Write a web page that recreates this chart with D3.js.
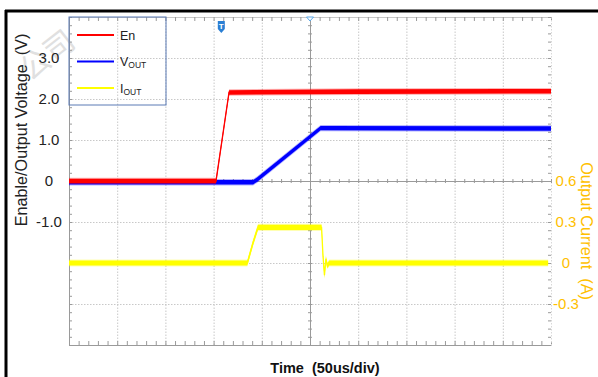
<!DOCTYPE html>
<html><head><meta charset="utf-8">
<script src="https://cdn.jsdelivr.net/npm/d3@7"></script>
<style>
html,body{margin:0;padding:0;background:#fff;}
svg{display:block;font-family:"Liberation Sans",Arial,sans-serif;}
</style></head>
<body>
<svg id="c" width="598" height="377"></svg>
<script>
// ---- data (time in us, 50us/div) ----
const enTime   = [0, 152.5, 166, 300, 500];
const enVolt   = [0.0, 0.0, 2.16, 2.18, 2.19];
const voutTime = [0, 191, 195, 261, 500];
const voutVolt = [-0.03, -0.03, 0.03, 1.29, 1.28];
const ioutTime = [0, 185, 191, 196, 262, 263.5, 265, 266.5, 268, 270, 497];
const ioutAmp  = [0.0, 0.0, 0.15, 0.26, 0.26, 0.05, -0.09, 0.03, -0.02, 0.0, 0.0];
const voltTicks = [3, 2, 1, 0, -1];
const ampTicks  = [0.6, 0.3, 0, -0.3];
const legendLabels = [["En",""],["V","OUT"],["I","OUT"]];
const colors = ["#ff0000","#0000ff","#ffff00"];

const svg = d3.select("#c");
const L=69, R=551, T=17, B=345;
const x  = d3.scaleLinear().domain([0,500]).range([L,R]);
const yV = d3.scaleLinear().domain([-4,4]).range([B,T]);
const yI = d3.scaleLinear().domain([-0.6,1.8]).range([B,T]);

// watermark
svg.append("text").attr("transform","translate(30,82) rotate(-38)")
  .attr("font-size",30).attr("fill","#e0e0e0").attr("font-family","Noto Sans CJK SC")
  .text("公司");

// frame lines
svg.append("line").attr("x1",5).attr("x2",598).attr("y1",11).attr("y2",11).attr("stroke","#000").attr("stroke-width",3);
svg.append("line").attr("x1",6).attr("x2",6).attr("y1",10).attr("y2",377).attr("stroke","#000").attr("stroke-width",3);

// grid
const gridG = svg.append("g");
gridG.append("g").attr("transform",`translate(0,${B})`)
  .call(d3.axisBottom(x).tickValues(d3.range(50,500,50)).tickSize(-(B-T)).tickFormat(""))
  .call(g=>g.select(".domain").remove())
  .call(g=>g.selectAll("line").attr("stroke","#c8c8c8").attr("stroke-dasharray","1.5,1.5"));
gridG.append("g").attr("transform",`translate(${L},0)`)
  .call(d3.axisLeft(yV).tickValues(d3.range(-3,4,1)).tickSize(-(R-L)).tickFormat(""))
  .call(g=>g.select(".domain").remove())
  .call(g=>g.selectAll("line").attr("stroke","#c8c8c8").attr("stroke-dasharray","1.5,1.5"));

// border + minor ticks
const tickCol="#9a9a9a";
function minor(g){ g.select(".domain").attr("stroke",tickCol); g.selectAll("line").attr("stroke",tickCol); }
svg.append("g").attr("transform",`translate(0,${B})`)
  .call(d3.axisTop(x).tickValues(d3.range(0,501,10)).tickSize(4).tickSizeOuter(0).tickFormat("")).call(minor);
svg.append("g").attr("transform",`translate(0,${T})`)
  .call(d3.axisBottom(x).tickValues(d3.range(0,501,10)).tickSize(4).tickSizeOuter(0).tickFormat("")).call(minor)
  .call(g=>g.select(".domain").attr("stroke","#c8c8c8"));
svg.append("g").attr("transform",`translate(${L},0)`)
  .call(d3.axisRight(yV).tickValues(d3.range(-4,4.01,0.2)).tickSize(3).tickSizeOuter(0).tickFormat("")).call(minor);
svg.append("g").attr("transform",`translate(${R},0)`)
  .call(d3.axisLeft(yV).tickValues(d3.range(-4,4.01,0.2)).tickSize(3).tickSizeOuter(0).tickFormat("")).call(minor)
  .call(g=>g.select(".domain").attr("stroke","#d8d8d8").attr("stroke-dasharray","1.5,1.5"));
// center cross
svg.append("g").attr("transform",`translate(0,${yV(0)})`)
  .call(d3.axisBottom(x).tickValues(d3.range(0,501,10)).tickSize(2).tickSizeOuter(0).tickFormat("")).call(minor)
  .call(g=>g.selectAll(".tick line").attr("y1",-2));
svg.append("g").attr("transform",`translate(${x(250)},0)`)
  .call(d3.axisRight(yV).tickValues(d3.range(-4,4.01,0.2)).tickSize(2).tickSizeOuter(0).tickFormat("")).call(minor)
  .call(g=>g.selectAll(".tick line").attr("x1",-2));

// traces: vertical noise band + thin core line
function trace(ts, vs, scale, col, half){
  const pts = ts.map((t,i)=>[x(t), scale(vs[i])]);
  const outer = d3.area().x(d=>d[0]).y0(d=>d[1]-half-1).y1(d=>d[1]+half+1);
  const band  = d3.area().x(d=>d[0]).y0(d=>d[1]-half).y1(d=>d[1]+half);
  svg.append("path").attr("d",outer(pts)).attr("fill",col).attr("fill-opacity",0.3);
  svg.append("path").attr("d",band(pts)).attr("fill",col);
  svg.append("path").attr("d",d3.line()(pts)).attr("fill","none").attr("stroke",col).attr("stroke-width",1.3);
}
trace(ioutTime, ioutAmp, yI, colors[2], 2.6);
trace(voutTime, voutVolt, yV, colors[1], 2.2);
trace(enTime, enVolt, yV, colors[0], 2.3);

// left axis labels
svg.append("g").attr("transform",`translate(49,0)`)
  .call(d3.axisLeft(yV).tickValues(voltTicks).tickSize(0).tickFormat(d=>d===0?"0":d.toFixed(1)))
  .call(g=>g.select(".domain").remove())
  .call(g=>g.selectAll("text").attr("x",0).attr("text-anchor","middle").attr("font-size",15)
     .attr("fill","#222").attr("font-family","Liberation Sans, Arial, sans-serif"));
// right axis labels
svg.append("g").attr("transform",`translate(566,0)`)
  .call(d3.axisRight(yI).tickValues(ampTicks).tickSize(0).tickFormat(d=>d===0?"0":d.toFixed(1)))
  .call(g=>g.select(".domain").remove())
  .call(g=>g.selectAll("text").attr("x",0).attr("text-anchor","middle").attr("font-size",15)
     .attr("fill","#ffc000").attr("font-family","Liberation Sans, Arial, sans-serif"));

// titles
svg.append("text").attr("transform","translate(27,130) rotate(-90)").attr("text-anchor","middle")
  .attr("font-size",16.2).attr("fill","#222").text("Enable/Output Voltage\u00a0\u00a0(V)");
svg.append("text").attr("transform","translate(581,231) rotate(90)").attr("text-anchor","middle")
  .attr("font-size",16.2).attr("fill","#ffc000").text("Output Current\u00a0\u00a0(A)");
svg.append("text").attr("x",325).attr("y",373).attr("text-anchor","middle")
  .attr("font-size",14.5).attr("font-weight","bold").attr("fill","#111").text("Time\u00a0\u00a0(50us/div)");

// legend
const lg = svg.append("g");
lg.append("rect").attr("x",L).attr("y",T).attr("width",97).attr("height",88)
  .attr("fill","none").attr("stroke","#5b7bb5").attr("stroke-width",1);
legendLabels.forEach((lab,i)=>{
  const yy = 35 + i*26.5;
  lg.append("line").attr("x1",77).attr("x2",114).attr("y1",yy).attr("y2",yy)
    .attr("stroke",colors[i]).attr("stroke-width",2.2);
  const t = lg.append("text").attr("x",120).attr("y",yy+4.5).attr("font-size",12.5).attr("fill","#222");
  t.append("tspan").text(lab[0]);
  if(lab[1]) t.append("tspan").attr("font-size",8.5).attr("dy",2).text(lab[1]);
});

// trigger markers
const trig = svg.append("g").attr("transform",`translate(${x(158)},21)`);
trig.append("path").attr("d","M-3.5,0 H3.5 V8 L0,12 L-3.5,8 Z").attr("fill","#2a7fd4");
trig.append("text").attr("x",0).attr("y",8).attr("text-anchor","middle").attr("font-size",8)
  .attr("font-weight","bold").attr("fill","#fff").text("T");
svg.append("path").attr("d",`M${x(250)-3.5},${T} L${x(250)+3.5},${T} L${x(250)},${T+4} Z`)
  .attr("fill","#fff").attr("stroke","#5aa8e8").attr("stroke-width",1);
</script>
</body></html>
